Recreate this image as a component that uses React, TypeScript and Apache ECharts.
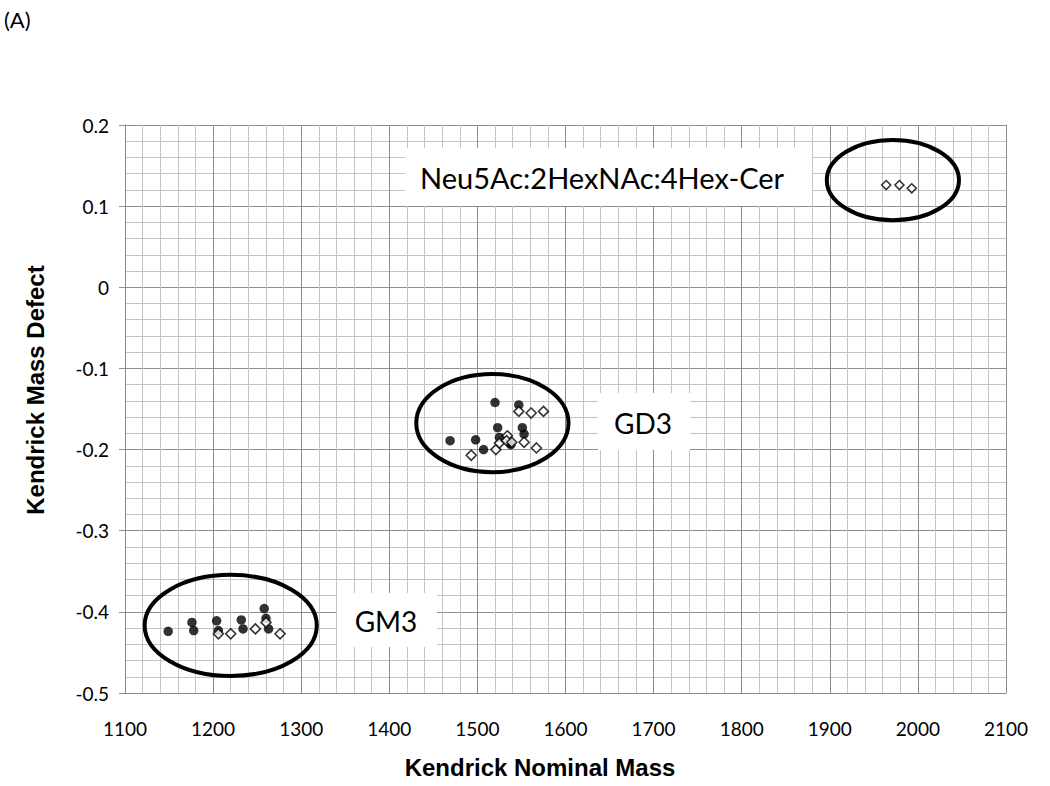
import React, { useEffect, useRef } from "react";
import * as echarts from "echarts";

const gm3FilledX = [1149, 1176, 1178, 1204, 1206, 1232, 1234, 1258, 1260, 1263];
const gm3FilledY = [-0.424, -0.413, -0.423, -0.411, -0.423, -0.41, -0.421, -0.396, -0.408, -0.421];
const gm3OpenX = [1206, 1220, 1248, 1260, 1276];
const gm3OpenY = [-0.427, -0.427, -0.421, -0.413, -0.427];

const gd3FilledX = [1469, 1498, 1507, 1520, 1523, 1525, 1537, 1547, 1551, 1553, 1538];
const gd3FilledY = [-0.189, -0.188, -0.2, -0.142, -0.173, -0.185, -0.192, -0.145, -0.173, -0.181, -0.194];
const gd3OpenX = [1493, 1521, 1525, 1534, 1533, 1539, 1547, 1553, 1561, 1575, 1567];
const gd3OpenY = [-0.207, -0.2, -0.192, -0.183, -0.189, -0.191, -0.153, -0.191, -0.155, -0.153, -0.198];

const neuOpenX = [1964, 1979, 1993];
const neuOpenY = [0.126, 0.126, 0.122];

// ellipse annotations: center x, center y, x radius, y radius (data units)
const ellipseCX = [1220, 1517, 1971.6];
const ellipseCY = [-0.4167, -0.1673, 0.132];
const ellipseRX = [97.7, 86.4, 75];
const ellipseRY = [0.0623, 0.0605, 0.0494];

const clusterLabels = ["Neu5Ac:2HexNAc:4Hex-Cer", "GD3", "GM3"];

const xTitle = "Kendrick Nominal Mass";
const yTitle = "Kendrick Mass Defect";
const panelTag = "(A)";

const zip = (xs: number[], ys: number[]) => xs.map((x, i) => [x, ys[i]]);

export default function App() {
  const ref = useRef<HTMLDivElement>(null);
  useEffect(() => {
    if (!ref.current) return;
    const chart = echarts.init(ref.current, null, { renderer: "svg" });
    const filledStyle = {
      symbol: "circle",
      symbolSize: 9.5,
      itemStyle: { color: "#000" },
    };
    const openStyle = {
      symbol: "diamond",
      symbolSize: 10,
      itemStyle: { color: "#fff", borderColor: "#000", borderWidth: 1.6 },
    };
    const tickFont = { fontFamily: "Lato", fontSize: 19, color: "#000" };
    const titleFont = { fontFamily: "Liberation Sans", fontWeight: "bold", fontSize: 24, fill: "#000" };
    const labelFont = { fontFamily: "Lato", fontSize: 28, fill: "#000", verticalAlign: "middle" };
    chart.setOption({
      animation: false,
      backgroundColor: "#fff",
      grid: { left: 125, right: 44, top: 125, bottom: 93 },
      xAxis: {
        type: "value",
        min: 1100,
        max: 2100,
        interval: 100,
        axisLine: { show: true, onZero: false, lineStyle: { color: "#8c8c8c", width: 1 } },
        axisTick: { show: false },
        axisLabel: { ...tickFont, margin: 26, formatter: (v: number) => String(v) },
        splitLine: { show: true, lineStyle: { color: "#8c8c8c", width: 1 } },
        minorTick: { show: false, splitNumber: 5 },
        minorSplitLine: { show: true, lineStyle: { color: "#c4c4c4", width: 1 } },
      },
      yAxis: {
        type: "value",
        min: -0.5,
        max: 0.2,
        interval: 0.1,
        axisLine: { show: true, onZero: false, lineStyle: { color: "#8c8c8c", width: 1 } },
        axisTick: { show: true, inside: false, length: 6, lineStyle: { color: "#8c8c8c" } },
        axisLabel: {
          ...tickFont,
          margin: 16,
          formatter: (v: number) => {
            const r = Math.round(v * 10) / 10;
            return r === 0 ? "0" : String(r);
          },
        },
        splitLine: { show: true, lineStyle: { color: "#8c8c8c", width: 1 } },
        minorTick: { show: false, splitNumber: 5 },
        minorSplitLine: { show: true, lineStyle: { color: "#c4c4c4", width: 1 } },
      },
      graphic: [
        {
          type: "text",
          x: 4,
          y: 19,
          z: 100,
          style: { text: panelTag, fontFamily: "Lato", fontSize: 22, fill: "#000", verticalAlign: "middle" },
        },
        {
          type: "text",
          x: 540,
          y: 767,
          z: 100,
          style: { text: xTitle, ...titleFont, align: "center", verticalAlign: "middle" },
        },
        {
          type: "text",
          x: 35,
          y: 390,
          rotation: Math.PI / 2,
          z: 100,
          style: { text: yTitle, ...titleFont, align: "center", verticalAlign: "middle" },
        },
        { type: "rect", z: 100, shape: { x: 405, y: 148, width: 407, height: 58 }, style: { fill: "#fff" } },
        {
          type: "text",
          z: 101,
          x: 420,
          y: 177,
          style: { text: clusterLabels[0], ...labelFont, fontSize: 29, align: "left" },
        },
        { type: "rect", z: 100, shape: { x: 598, y: 393, width: 92, height: 57 }, style: { fill: "#fff" } },
        {
          type: "text",
          z: 101,
          x: 643,
          y: 423,
          style: { text: clusterLabels[1], ...labelFont, align: "center" },
        },
        { type: "rect", z: 100, shape: { x: 337, y: 593, width: 100, height: 54 }, style: { fill: "#fff" } },
        {
          type: "text",
          z: 101,
          x: 386,
          y: 621,
          style: { text: clusterLabels[2], ...labelFont, align: "center" },
        },
      ],
      series: [
        { type: "scatter", data: zip(gm3FilledX, gm3FilledY), ...filledStyle, z: 3 },
        { type: "scatter", data: zip(gd3FilledX, gd3FilledY), ...filledStyle, z: 3 },
        { type: "scatter", data: zip(gm3OpenX, gm3OpenY), ...openStyle, z: 4 },
        { type: "scatter", data: zip(gd3OpenX, gd3OpenY), ...openStyle, z: 4 },
        { type: "scatter", data: zip(neuOpenX, neuOpenY), ...openStyle, symbolSize: 9, z: 4 },
        {
          type: "custom",
          z: 5,
          silent: true,
          encode: { x: 0, y: 1 },
          data: ellipseCX.map((cx, i) => [cx, ellipseCY[i], ellipseRX[i], ellipseRY[i]]),
          renderItem: (_params: any, api: any) => {
            const c = api.coord([api.value(0), api.value(1)]);
            const s = api.size([api.value(2), api.value(3)]);
            return {
              type: "ellipse",
              shape: { cx: c[0], cy: c[1], rx: s[0], ry: s[1] },
              style: { fill: "none", stroke: "#000", lineWidth: 4 },
            };
          },
        },
      ],
    });
    return () => chart.dispose();
  }, []);
  return (
    <div
      ref={ref}
      style={{ position: "absolute", left: 0, top: 0, width: 1050, height: 786, background: "#fff" }}
    />
  );
}
